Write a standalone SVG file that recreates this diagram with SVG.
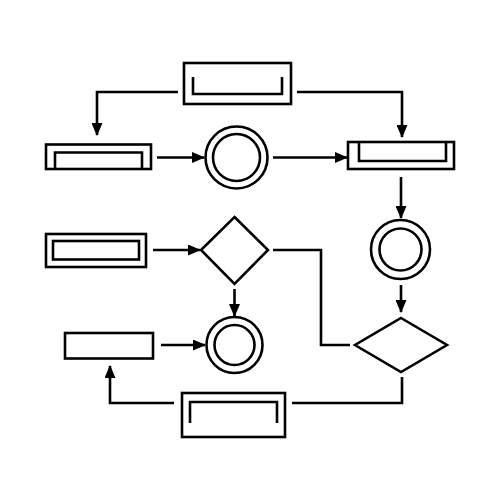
<svg xmlns="http://www.w3.org/2000/svg" width="500" height="500" viewBox="0 0 500 500">
<style>
.s{fill:none;stroke:#000;stroke-width:2.6}
.n{fill:#fff;stroke:#000;stroke-width:2.6}
</style>
<defs>
<marker id="ah" viewBox="0 0 13 11" markerWidth="13" markerHeight="11" refX="12" refY="5.5" orient="auto" markerUnits="userSpaceOnUse">
<path d="M0,0 L13,5.5 L0,11 z" fill="#000"/>
</marker>
</defs>
<rect width="500" height="500" fill="#fff"/>
<g id="connectors" class="s">
<path d="M178,92 H97 V135" marker-end="url(#ah)"/>
<path d="M297,92 H402 V137" marker-end="url(#ah)"/>
<path d="M157,157.5 H204" marker-end="url(#ah)"/>
<path d="M273,157.5 H347" marker-end="url(#ah)"/>
<path d="M401,177 V218" marker-end="url(#ah)"/>
<path d="M401,285 V312" marker-end="url(#ah)"/>
<path d="M153,250 H200" marker-end="url(#ah)"/>
<path d="M273,250 H321 V345 H350"/>
<path d="M234.5,289 V316" marker-end="url(#ah)"/>
<path d="M161,345 H205" marker-end="url(#ah)"/>
<path d="M402,377 V403 H292"/>
<path d="M174,403 H110 V366" marker-end="url(#ah)"/>
</g>
<g id="top-rect"><rect class="n" x="184" y="63" width="107" height="41"/><path class="s" d="M193,77 V94 H282 V77"/></g>
<g id="left-rect-1"><rect class="n" x="46" y="144.5" width="105" height="24.5"/><path class="s" d="M55,169 V152.5 H142 V169"/></g>
<g id="circle-1"><circle class="n" cx="236.5" cy="157.5" r="31"/><circle class="s" cx="236.5" cy="157.5" r="23.5"/></g>
<g id="right-rect-1"><rect class="n" x="348" y="142" width="106" height="27"/><path class="s" d="M359,142 V161 H446 V142"/></g>
<g id="circle-2"><circle class="n" cx="400.5" cy="249.5" r="29.5"/><circle class="s" cx="400.5" cy="249.5" r="21"/></g>
<g id="diamond-2"><polygon class="n" points="401,318 447,345 401,372 355,345"/></g>
<g id="left-rect-2"><rect class="n" x="46" y="234" width="100" height="33"/><rect class="s" x="53" y="241" width="86" height="18.5"/></g>
<g id="diamond-1"><polygon class="n" points="234.5,217 268,250 234.5,284 201,250"/></g>
<g id="circle-3"><circle class="n" cx="234.5" cy="345" r="28"/><circle class="s" cx="234.5" cy="345" r="20"/></g>
<g id="left-rect-3"><rect class="n" x="65" y="333" width="88" height="25.5"/></g>
<g id="bottom-rect"><rect class="n" x="182" y="393" width="103" height="44"/><path class="s" d="M190,423 V402 H277 V423"/></g>
</svg>
